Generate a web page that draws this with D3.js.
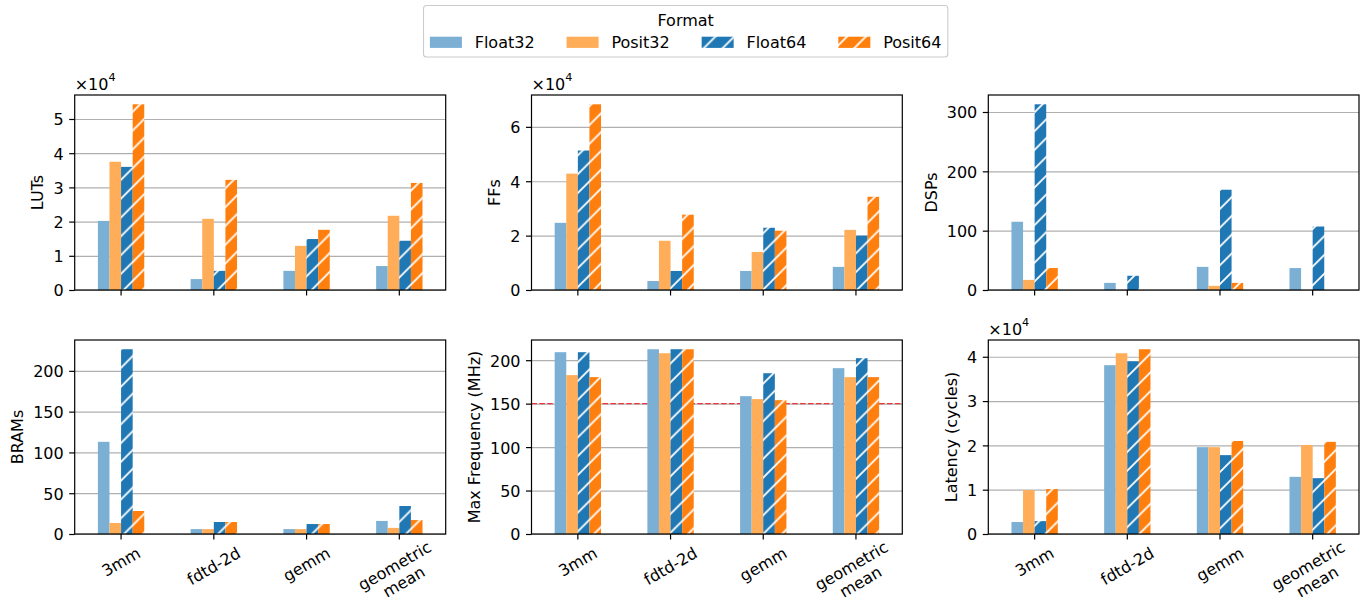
<!DOCTYPE html>
<html>
<head>
<meta charset="utf-8">
<script src="https://cdn.jsdelivr.net/npm/d3@7"></script>
<style>
  body { margin: 0; background: #fff; }
  text { font-family: "DejaVu Sans", sans-serif; fill: #000; }
</style>
</head>
<body>
<svg id="chart" width="1361" height="606"></svg>
<script>
// benchmarks on the x axis, number formats as the series
var benchmarks = ["3mm", "fdtd-2d", "gemm", "geometric\nmean"];
var formats = ["Float32", "Posit32", "Float64", "Posit64"];

// one row per format, one value per benchmark
var luts = [
  [20200, 3200, 5600, 7000],
  [37500, 20800, 12900, 21700],
  [36000, 5600, 14900, 14400],
  [54300, 32200, 17600, 31300]
];
var ffs = [
  [24700, 3300, 7000, 8500],
  [42800, 18100, 14000, 22100],
  [51300, 7000, 22900, 20000],
  [68300, 27700, 21800, 34300]
];
var dsps = [
  [115, 12, 39, 37],
  [17, 0, 7, 0],
  [313, 24, 169, 107],
  [37, 0, 12, 0]
];
var brams = [
  [113, 6, 6, 16],
  [13.5, 6, 6, 7.5],
  [226.5, 14.7, 12.2, 34.3],
  [28.2, 14.7, 12.2, 17.1]
];
var maxFreq = [
  [209.2, 212.6, 158.6, 190.8],
  [182.8, 208, 155.2, 180.5],
  [209.2, 212.6, 185, 202.3],
  [180.5, 212.6, 154, 180.5]
];
var latency = [
  [2700, 38100, 19600, 12900],
  [9900, 40800, 19600, 20100],
  [2900, 39000, 17800, 12600],
  [10150, 41700, 21000, 20800]
];

var lutTicks = [0, 10000, 20000, 30000, 40000, 50000];
var ffTicks = [0, 20000, 40000, 60000];
var dspTicks = [0, 100, 200, 300];
var bramTicks = [0, 50, 100, 150, 200];
var freqTicks = [0, 50, 100, 150, 200];
var latTicks = [0, 10000, 20000, 30000, 40000];
var freqTarget = 150;

var fs = 16;
var tickLen = 5.5, tickPad = 5.5;
var svg = d3.select("#chart");
var defs = svg.append("defs");

var colors = {Float32: "#7bb0d4", Posit32: "#ffad58", Float64: "#1f77b4", Posit64: "#ff7f0e"};
var hatched = {Float64: true, Posit64: true};

function makeHatch(id, col) {
  var h = 18.8;
  var p = defs.append("pattern").attr("id", id)
      .attr("patternUnits", "userSpaceOnUse")
      .attr("width", h).attr("height", h);
  p.append("rect").attr("width", h).attr("height", h).attr("fill", col);
  p.append("path")
      .attr("d", "M" + (-h/2) + "," + (h/2) + "L" + (h/2) + "," + (-h/2) +
                 "M0," + h + "L" + h + ",0" +
                 "M" + (h/2) + "," + (1.5*h) + "L" + (1.5*h) + "," + (h/2))
      .attr("stroke", "#fff").attr("stroke-width", 1.8);
}
formats.forEach(function (f) { if (hatched[f]) makeHatch("hatch_" + f, colors[f]); });
function fillOf(f) { return hatched[f] ? "url(#hatch_" + f + ")" : colors[f]; }

var colX = [[74.7, 445.7], [531.5, 902.3], [988.3, 1359]];
var rowY = [[95, 290], [340, 534]];

var panels = [
  {vals: luts, label: "LUTs", ticks: lutTicks, div: 1e4, col: 0, row: 0},
  {vals: ffs, label: "FFs", ticks: ffTicks, div: 1e4, col: 1, row: 0},
  {vals: dsps, label: "DSPs", ticks: dspTicks, div: 1, col: 2, row: 0},
  {vals: brams, label: "BRAMs", ticks: bramTicks, div: 1, col: 0, row: 1},
  {vals: maxFreq, label: "Max Frequency (MHz)", ticks: freqTicks, div: 1, col: 1, row: 1, ref: freqTarget},
  {vals: latency, label: "Latency (cycles)", ticks: latTicks, div: 1e4, col: 2, row: 1}
];

panels.forEach(function (p) {
  var left = colX[p.col][0], right = colX[p.col][1];
  var top = rowY[p.row][0], bottom = rowY[p.row][1];
  var ymax = d3.max(p.vals, function (r) { return d3.max(r); }) * 1.05;

  var x = d3.scaleBand().domain(benchmarks).range([left, right]).paddingInner(0).paddingOuter(0);
  var bw = x.bandwidth();
  var xs = d3.scaleBand().domain(formats).range([-bw / 4, bw / 4]);
  var y = d3.scaleLinear().domain([0, ymax]).range([bottom, top]);

  // grid below the bars
  var grid = svg.append("g").attr("transform", "translate(" + left + ",0)")
      .call(d3.axisLeft(y).tickValues(p.ticks).tickSize(-(right - left)).tickFormat(""));
  grid.select(".domain").remove();
  grid.selectAll("line").attr("stroke", "#b0b0b0").attr("stroke-width", 1.2);

  if (p.ref !== undefined) {
    svg.append("line").attr("x1", left).attr("x2", right)
        .attr("y1", y(p.ref)).attr("y2", y(p.ref))
        .attr("stroke", "#e8363a")
        .attr("stroke-width", 1.3).attr("stroke-dasharray", "5.5,2.4");
  }

  formats.forEach(function (f, fi) {
    svg.append("g").selectAll("rect")
      .data(benchmarks)
      .join("rect")
        .attr("x", function (b) { return x(b) + bw / 2 + xs(f); })
        .attr("width", xs.bandwidth())
        .attr("y", function (b, i) { return y(p.vals[fi][i]); })
        .attr("height", function (b, i) { return bottom - y(p.vals[fi][i]); })
        .attr("fill", fillOf(f));
  });

  // spines
  svg.append("rect").attr("x", left).attr("y", top)
      .attr("width", right - left).attr("height", bottom - top)
      .attr("fill", "none").attr("stroke", "#000").attr("stroke-width", 1.2);

  // y axis
  var yax = svg.append("g").attr("transform", "translate(" + left + ",0)")
      .call(d3.axisLeft(y).tickValues(p.ticks).tickSize(tickLen).tickPadding(tickPad)
            .tickFormat(function (v) { return d3.format("~g")(v / p.div); }));
  yax.select(".domain").remove();
  yax.selectAll("line").attr("stroke", "#000").attr("stroke-width", 1.2);
  yax.selectAll("text").attr("font-size", fs).attr("font-family", "DejaVu Sans")
      .attr("dy", "0.37em").attr("fill", "#000");
  var maxW = 0;
  yax.selectAll("text").each(function () { maxW = Math.max(maxW, this.getComputedTextLength()); });

  // x axis ticks (labels only on the bottom row)
  var xax = svg.append("g").attr("transform", "translate(0," + bottom + ")")
      .call(d3.axisBottom(x).tickSize(tickLen).tickFormat(""));
  xax.select(".domain").remove();
  xax.selectAll("line").attr("stroke", "#000").attr("stroke-width", 1.2);

  if (p.row === 1) {
    var ang = 30 * Math.PI / 180;
    benchmarks.forEach(function (b) {
      var lines = b.split("\n");
      var g = svg.append("g");
      var t = g.append("text").attr("font-size", fs).attr("text-anchor", "middle");
      var n = lines.length;
      lines.forEach(function (ln, i) {
        t.append("tspan").attr("x", 0)
          .attr("y", (i - (n - 1) / 2) * 1.15 * fs + 0.346 * fs)
          .text(ln);
      });
      var w = 0;
      t.selectAll("tspan").each(function () { w = Math.max(w, this.getComputedTextLength()); });
      var h = fs * (1.164 + 1.15 * (n - 1));
      var H = w * Math.sin(ang) + h * Math.cos(ang);
      var cx = x(b) + bw / 2, cy = bottom + tickLen + tickPad - 1.5 + H / 2 - 6 * (n - 1);
      g.attr("transform", "translate(" + cx + "," + cy + ") rotate(-30)");
    });
  }

  // y label
  var lx = left - tickLen - tickPad - maxW - 6.3 - 0.236 * fs;
  svg.append("text").attr("font-size", fs).attr("text-anchor", "middle")
      .attr("transform", "translate(" + lx + "," + ((top + bottom) / 2) + ") rotate(-90)")
      .text(p.label);

  // offset text
  if (p.div !== 1) {
    var ot = svg.append("text").attr("x", left).attr("y", top - 5).attr("font-size", fs);
    ot.append("tspan").text("\u00d710");
    ot.append("tspan").attr("font-size", fs * 0.7).attr("dy", -0.55 * fs).text("4");
  }
});

// legend
var lg = svg.append("g");
var lgLeft = 423.5, lgTop = 5.5, pad = 0.4 * fs;
var box = lg.append("rect").attr("x", lgLeft).attr("y", lgTop).attr("height", 51.5)
    .attr("rx", 3).attr("fill", "#fff").attr("fill-opacity", 0.8)
    .attr("stroke", "#cccccc").attr("stroke-width", 1.1);
var cx = lgLeft + pad;
formats.forEach(function (f) {
  lg.append("rect").attr("x", cx).attr("y", 36.7).attr("width", 2 * fs).attr("height", 0.7 * fs)
      .attr("fill", fillOf(f));
  cx += 2 * fs + 0.8 * fs;
  var t = lg.append("text").attr("x", cx).attr("y", 48.3).attr("font-size", fs).text(f);
  cx += t.node().getComputedTextLength() + 2 * fs;
});
var lgRight = cx - 2 * fs + pad;
box.attr("width", lgRight - lgLeft);
lg.append("text").attr("x", (lgLeft + lgRight) / 2).attr("y", 25.5)
    .attr("font-size", fs).attr("text-anchor", "middle").text("Format");
</script>
</body>
</html>
